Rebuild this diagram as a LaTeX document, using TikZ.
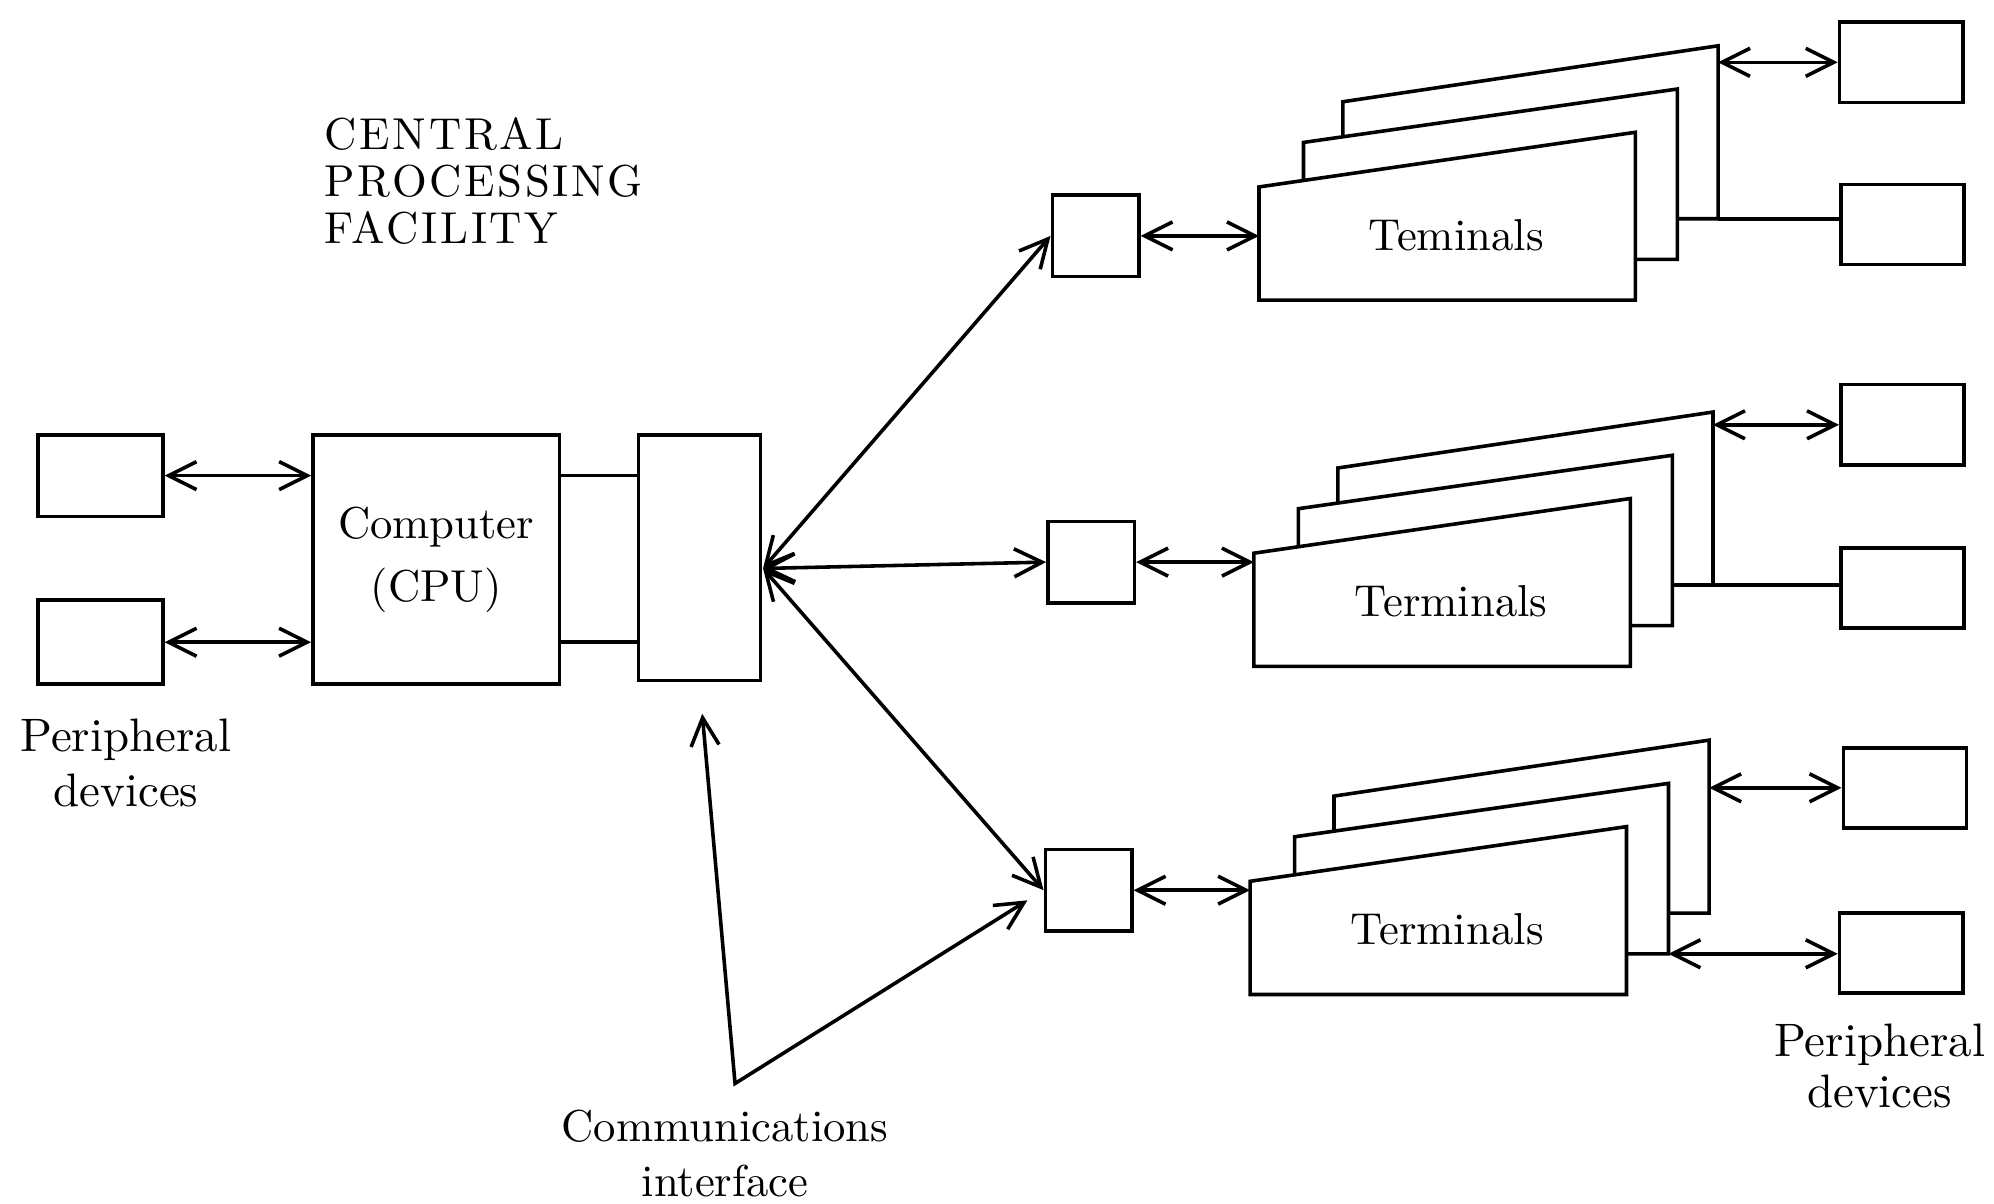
\documentclass[tikz,border=0pt]{standalone}
\usepackage{fontspec}
\newfontfamily\spacedfont{lmroman10-regular.otf}[LetterSpace=6]
\usetikzlibrary{arrows.meta,calc,positioning}

\begin{document}
\begin{tikzpicture}[line width=0.8pt, >={Straight Barb[length=2.2mm,width=2.2mm]},
  every node/.style={font=\fontsize{10}{12}\selectfont},
  box/.style={draw, inner sep=0pt},
  pbox/.style={box, minimum width=0.97cm, minimum height=0.63cm},
  mbox/.style={box, minimum width=0.68cm, minimum height=0.64cm},
  sheet/.style={draw, fill=white, line join=miter}]
\useasboundingbox (0,0) rectangle (15.68,-9.46);
% central processing facility
\node[anchor=north west, inner sep=0pt, align=left, font=\spacedfont\fontsize{10}{10.5}\selectfont] (cpf) at (2.54,-0.91) {CENTRAL\\PROCESSING\\FACILITY};
\node[pbox, minimum width=0.98cm, minimum height=0.64cm] (pd1) at (0.79,-3.74) {};
\node[pbox, minimum width=0.98cm, minimum height=0.66cm] (pd2) at (0.79,-5.05) {};
\node[box, minimum width=1.94cm, minimum height=1.96cm, align=center, font=\fontsize{10}{14}\selectfont] (cpu) at (3.43,-4.40) {Computer\\(CPU)};
\node[box, minimum width=0.96cm, minimum height=1.93cm] (ci) at (5.50,-4.385) {};
\draw[<->] (pd1.east) -- (pd1.east -| cpu.west);
\draw[<->] (pd2.east) -- (pd2.east -| cpu.west);
\draw (cpu.east |- pd1) -- (ci.west |- pd1);
\draw (cpu.east |- pd2) -- (ci.west |- pd2);
\node[align=center, font=\fontsize{10.5}{12.5}\selectfont] (pdlab) at (0.99,-6.00) {Peripheral\\devices};
% remote sites
\node[mbox] (m1) at (8.615,-1.855) {};
\node[mbox] (m2) at (8.58,-4.42) {};
\node[mbox] (m3) at (8.56,-7.00) {};
\coordinate (hub) at (6.00,-4.47);
\draw[<->] (hub) -- (m1.west);
\draw[<->] (hub) -- (m2.west);
\draw[<->] (hub) -- (m3.west);
\coordinate (ptr) at (5.78,-8.52);
\draw[<->, shorten <=2.5mm, shorten >=1.5mm] (ci.south) -- (ptr) -- (m3.west);
\node[align=center, font=\fontsize{10}{12.2}\selectfont] (cilab) at (5.70,-9.07) {Communications\\interface};
% terminal stacks
\foreach \i/\x/\y/\txt in {1/9.90/-1.47/Teminals, 2/9.86/-4.35/Terminals, 3/9.83/-6.93/Terminals} {
  \coordinate (ft\i) at (\x,\y);
  \draw[sheet] ($(ft\i)+(0.66,0.67)$) -- ($(ft\i)+(3.61,1.11)$) -- ($(ft\i)+(3.61,-0.25)$) coordinate (bk\i) -- ($(ft\i)+(0.66,-0.25)$) -- cycle;
  \draw[sheet] ($(ft\i)+(0.35,0.35)$) -- ($(ft\i)+(3.29,0.77)$) -- ($(ft\i)+(3.29,-0.57)$) coordinate (md\i) -- ($(ft\i)+(0.35,-0.57)$) -- cycle;
  \draw[sheet] (ft\i) -- ($(ft\i)+(2.96,0.43)$) -- ($(ft\i)+(2.96,-0.89)$) -- ($(ft\i)+(0,-0.89)$) -- cycle;
  \node (tl\i) at ($(ft\i)+(1.55,-0.38)$) {\txt};
}
\draw[<->] (m1.east) -- (m1.east -| ft1);
\draw[<->] (m2.east) -- (m2.east -| ft2);
\draw[<->] (m3.east) -- (m3.east -| ft3);
% peripheral devices
\node[pbox] (pr1a) at (14.95,-0.49) {};
\node[pbox] (pr1b) at (14.96,-1.765) {};
\node[pbox] (pr2a) at (14.96,-3.34) {};
\node[pbox] (pr2b) at (14.96,-4.625) {};
\node[pbox] (pr3a) at (14.98,-6.195) {};
\node[pbox] (pr3b) at (14.95,-7.495) {};
\draw[<->] (bk1 |- pr1a.west) -- (pr1a.west);
\draw (bk1) -- (bk1 -| pr1b.west);
\draw[<->] (bk2 |- pr2a.west) -- (pr2a.west);
\draw (bk2) -- (bk2 -| pr2b.west);
\draw[<->] (bk3 |- pr3a.west) -- (pr3a.west);
\draw[<->] (md3) -- (md3 -| pr3b.west);
\node[align=center, font=\fontsize{10.5}{11.5}\selectfont] (prlab) at (14.78,-8.38) {Peripheral\\devices};
\end{tikzpicture}
\end{document}
